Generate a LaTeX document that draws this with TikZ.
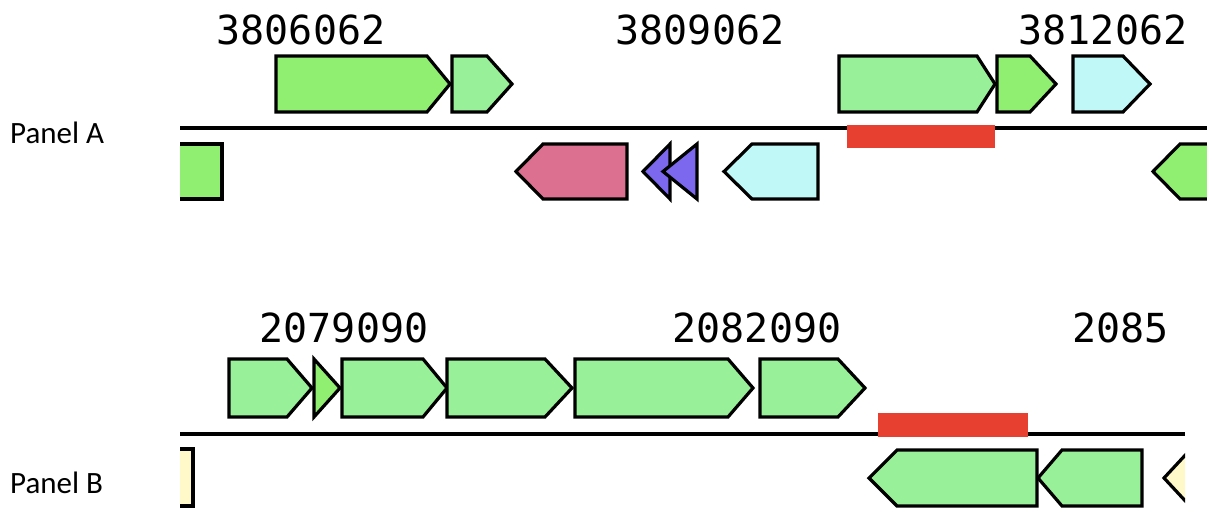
\documentclass[tikz,border=0pt]{standalone}
\usepackage{fontspec}
\setmainfont{Carlito}
\newfontfamily\rulerfont{DejaVu Sans Mono}
\usepackage{tikz}
\definecolor{brightgreen}{RGB}{144,238,112}
\definecolor{palegreen}{RGB}{152,240,152}
\definecolor{palecyan}{RGB}{192,248,248}
\definecolor{rosepink}{RGB}{220,112,144}
\definecolor{slateblue}{RGB}{123,104,238}
\definecolor{hitred}{RGB}{232,64,48}
\definecolor{lemon}{RGB}{255,248,200}
\tikzset{
  gene/.style={draw=black, line width=3.2pt, line join=miter},
  strand/.style={draw=black, line width=3.2pt},
  hit/.style={fill=hitred, draw=none},
  ruler/.style={font=\rulerfont\fontsize{40}{40}\selectfont, inner sep=0pt},
  panel/.style={font=\fontsize{31}{37}\selectfont, inner sep=0pt, anchor=west}
}

\begin{document}
\begin{tikzpicture}[x=1pt,y=-1pt]
\useasboundingbox (0,0) rectangle (1207,510);

\node[panel] (pA) at (10,133) {Panel A};
\node[panel] (pB) at (10,483) {Panel B};

% panel A
\begin{scope}
\clip (180,0) rectangle (1207,215);
\node[ruler] (a0) at (301,30) {3806062};
\node[ruler] (a1) at (700,30) {3809062};
\node[ruler] (a2) at (1103,30) {3812062};

\draw[strand] (180,128) -- (1210,128);
\fill[hit] (847,125) rectangle (995,148);

\draw[gene, fill=brightgreen] (276,56) -- (427,56) -- (450,84) -- (427,112) -- (276,112) -- cycle;
\draw[gene, fill=palegreen] (452,56) -- (487,56) -- (512,84) -- (487,112) -- (452,112) -- cycle;
\draw[gene, fill=palegreen] (839,56) -- (977,56) -- (995,84) -- (977,112) -- (839,112) -- cycle;
\draw[gene, fill=brightgreen] (997,56) -- (1030,56) -- (1056,84) -- (1030,112) -- (997,112) -- cycle;
\draw[gene, fill=palecyan] (1073,56) -- (1123,56) -- (1150,84) -- (1123,112) -- (1073,112) -- cycle;

\draw[gene, fill=brightgreen] (170,144) -- (222,144) -- (222,199) -- (170,199) -- cycle;
\draw[gene, fill=rosepink] (516,171.5) -- (543,144) -- (627,144) -- (627,199) -- (543,199) -- cycle;
\draw[gene, fill=slateblue] (643,171.5) -- (670,144) -- (670,199) -- cycle;
\draw[gene, fill=slateblue] (663,171.5) -- (697,144) -- (697,199) -- cycle;
\draw[gene, fill=palecyan] (724,171.5) -- (752,144) -- (818,144) -- (818,199) -- (752,199) -- cycle;
\draw[gene, fill=brightgreen] (1153,171.5) -- (1180,144) -- (1230,144) -- (1230,199) -- (1180,199) -- cycle;
\end{scope}

% panel B
\begin{scope}
\clip (180,300) rectangle (1185,510);
\node[ruler] (b0) at (344,328) {2079090};
\node[ruler] (b1) at (757,328) {2082090};
\node[ruler, anchor=west] (b2) at (1072,328) {2085};

\draw[strand] (180,434) -- (1185,434);
\fill[hit] (878,413) rectangle (1028,437);

\draw[gene, fill=palegreen] (229,359) -- (287,359) -- (312,388) -- (287,417) -- (229,417) -- cycle;
\draw[gene, fill=brightgreen] (314,359) -- (340,388) -- (314,417) -- cycle;
\draw[gene, fill=palegreen] (342,359) -- (423,359) -- (447,388) -- (423,417) -- (342,417) -- cycle;
\draw[gene, fill=palegreen] (447,359) -- (545,359) -- (572,388) -- (545,417) -- (447,417) -- cycle;
\draw[gene, fill=palegreen] (575,359) -- (728,359) -- (753,388) -- (728,417) -- (575,417) -- cycle;
\draw[gene, fill=palegreen] (760,359) -- (838,359) -- (865,388) -- (838,417) -- (760,417) -- cycle;

\draw[gene, fill=lemon] (170,449) -- (193,449) -- (193,506) -- (170,506) -- cycle;
\draw[gene, fill=palegreen] (869,478) -- (897,450) -- (1037,450) -- (1037,506) -- (897,506) -- cycle;
\draw[gene, fill=palegreen] (1038,478) -- (1062,450) -- (1142,450) -- (1142,506) -- (1062,506) -- cycle;
\draw[gene, fill=lemon] (1164,478) -- (1190,450) -- (1230,450) -- (1230,506) -- (1190,506) -- cycle;
\end{scope}

\end{tikzpicture}
\end{document}
